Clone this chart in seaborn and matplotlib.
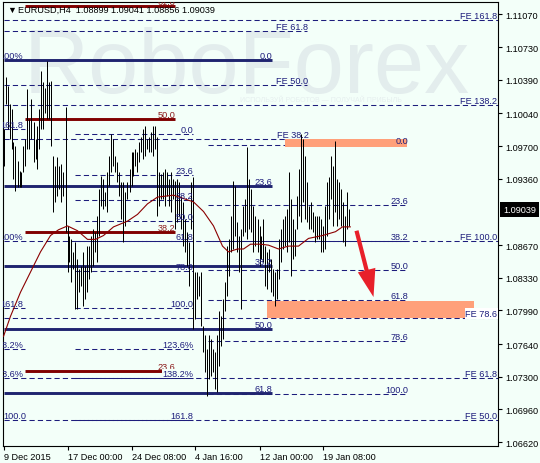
import matplotlib
matplotlib.use("Agg")
import matplotlib.pyplot as plt
import matplotlib.transforms as mtransforms
from matplotlib.patches import Rectangle
import seaborn as sns

# ---- data ----
bar_high = [
    1.0988, 1.1042, 1.1033, 1.1014, 1.1009, 1.0974, 1.0970, 1.0955, 1.0944, 1.0943,
    1.0970, 1.0977, 1.1029, 1.0998, 1.1019, 1.0995, 1.0977, 1.0991, 1.1009, 1.1048,
    1.1037, 1.1031, 1.1059, 1.1037, 1.1038, 1.0960, 1.0949, 1.0959, 1.0949, 1.0951,
    1.0943, 1.1011, 1.0887, 1.0877, 1.0873, 1.0860, 1.0870, 1.0853, 1.0842, 1.0845,
    1.0860, 1.0845, 1.0866, 1.0866, 1.0877, 1.0884, 1.0881, 1.0897, 1.0925, 1.0939,
    1.0936, 1.0922, 1.0943, 1.0960, 1.0983, 1.0977, 1.0960, 1.0953, 1.0943, 1.0933,
    1.0933, 1.0922, 1.0933, 1.0946, 1.0964, 1.0964, 1.0967, 1.0964, 1.0974, 1.0980,
    1.0988, 1.0991, 1.0977, 1.0980, 1.0985, 1.0991, 1.0991, 1.0980, 1.0943, 1.0941,
    1.0943, 1.0946, 1.0943, 1.0936, 1.0943, 1.0936, 1.0934, 1.0936, 1.0933, 1.0918,
    1.0912, 1.0894, 1.0881, 1.0870, 1.0933, 1.0938, 1.0839, 1.0839, 1.0835, 1.0839,
    1.0783, 1.0773, 1.0759, 1.0773, 1.0769, 1.0759, 1.0756, 1.0773, 1.0798, 1.0793,
    1.0811, 1.0829, 1.0866, 1.0873, 1.0897, 1.0934, 1.0929, 1.0891, 1.0877, 1.0884,
    1.0908, 1.0915, 1.0969, 1.0936, 1.0925, 1.0908, 1.0897, 1.0894, 1.0887, 1.0877,
    1.0894, 1.0866, 1.0860, 1.0863, 1.0853, 1.0842, 1.0839, 1.0842, 1.0873, 1.0884,
    1.0894, 1.0897, 1.0905, 1.0943, 1.0915, 1.0894, 1.0884, 1.0918, 1.0946, 1.0983,
    1.0977, 1.0960, 1.0933, 1.0908, 1.0912, 1.0901, 1.0897, 1.0897, 1.0897, 1.0894,
    1.0887, 1.0908, 1.0933, 1.0938, 1.0960, 1.0949, 1.0975, 1.0936, 1.0933, 1.0925,
    1.0912, 1.0897, 1.0922, 1.0905,
]
bar_low = [
    1.0949, 1.1014, 1.0988, 1.0977, 1.0967, 1.0936, 1.0923, 1.0927, 1.0927, 1.0927,
    1.0943, 1.0949, 1.0967, 1.0967, 1.0977, 1.0953, 1.0957, 1.0946, 1.0967, 1.0988,
    1.0988, 1.1005, 1.0998, 1.0998, 1.0970, 1.0902, 1.0912, 1.0918, 1.0925, 1.0912,
    1.0918, 1.0881, 1.0839, 1.0849, 1.0829, 1.0842, 1.0801, 1.0801, 1.0818, 1.0825,
    1.0804, 1.0811, 1.0818, 1.0832, 1.0839, 1.0845, 1.0860, 1.0849, 1.0877, 1.0908,
    1.0905, 1.0908, 1.0901, 1.0929, 1.0943, 1.0949, 1.0943, 1.0933, 1.0918, 1.0894,
    1.0870, 1.0887, 1.0915, 1.0922, 1.0929, 1.0939, 1.0949, 1.0943, 1.0953, 1.0964,
    1.0957, 1.0960, 1.0967, 1.0964, 1.0964, 1.0960, 1.0967, 1.0897, 1.0908, 1.0915,
    1.0915, 1.0908, 1.0918, 1.0908, 1.0901, 1.0915, 1.0884, 1.0891, 1.0897, 1.0884,
    1.0866, 1.0860, 1.0845, 1.0825, 1.0884, 1.0780, 1.0790, 1.0811, 1.0814, 1.0783,
    1.0756, 1.0735, 1.0710, 1.0728, 1.0731, 1.0735, 1.0717, 1.0714, 1.0741, 1.0762,
    1.0769, 1.0798, 1.0814, 1.0835, 1.0860, 1.0863, 1.0877, 1.0860, 1.0839, 1.0801,
    1.0877, 1.0881, 1.0873, 1.0884, 1.0881, 1.0860, 1.0866, 1.0860, 1.0845, 1.0853,
    1.0849, 1.0825, 1.0821, 1.0839, 1.0818, 1.0814, 1.0804, 1.0811, 1.0832, 1.0849,
    1.0863, 1.0866, 1.0860, 1.0870, 1.0835, 1.0853, 1.0856, 1.0884, 1.0897, 1.0891,
    1.0912, 1.0894, 1.0891, 1.0884, 1.0884, 1.0881, 1.0870, 1.0873, 1.0873, 1.0860,
    1.0860, 1.0863, 1.0877, 1.0894, 1.0915, 1.0887, 1.0901, 1.0887, 1.0894, 1.0887,
    1.0870, 1.0866, 1.0884, 1.0887,
]
ma_idx = [0, 3.5, 8.5, 13.5, 18.5, 23.5, 27.5, 32, 37, 42, 46, 50, 55, 62, 67, 72, 77, 85,
          95, 100, 105, 109.5, 112.5, 117, 120, 123.5, 128.5, 132.5, 137.5, 142.5, 147.5,
          152.5, 159.5, 166, 169.5, 173.5]
ma_val = [1.0772, 1.0793, 1.0818, 1.0839, 1.0860, 1.0877, 1.0883, 1.0887, 1.0882, 1.0873,
          1.0873, 1.0877, 1.0886, 1.0892, 1.0899, 1.0910, 1.0917, 1.0919,
          1.0912, 1.0902, 1.0887, 1.0866, 1.0860, 1.0863, 1.0863, 1.0868, 1.0868, 1.0867,
          1.0863, 1.0866, 1.0866, 1.0874, 1.0877, 1.0881, 1.0886, 1.0886]

date_idx = [0, 32, 64, 96, 128, 160]
date_lbl = ["9 Dec 2015", "17 Dec 00:00", "24 Dec 08:00", "4 Jan 16:00", "12 Jan 00:00", "19 Jan 08:00"]
price_ticks = [1.11070, 1.10730, 1.10390, 1.10040, 1.09700, 1.09360, 1.08670,
               1.08330, 1.07990, 1.07640, 1.07300, 1.06960, 1.06620]
last_price = 1.09039
title = "EURUSD,H4  1.08899 1.09041 1.08856 1.09039"

# fibonacci objects
navy_lbl = ["0.0", "23.6", "38.2", "50.0", "61.8"]
navy_val = [1.1060, 1.0929, 1.0845, 1.0780, 1.0713]
red_lbl = ["61.8", "50.0", "38.2", "23.6"]
red_val = [1.1116, 1.0998, 1.0881, 1.0736]
mid_lbl = ["0.0", "23.6", "38.2", "50.0", "61.8", "78.6", "100.0", "123.6%", "138.2%", "161.8"]
mid_val = [1.0983, 1.0940, 1.0914, 1.0892, 1.0871, 1.0840, 1.0802, 1.0759, 1.0729, 1.0685]
right_lbl = ["0.0", "23.6", "38.2", "50.0", "61.8", "78.6", "100.0", "123.6%"]
right_val = [1.0971, 1.0909, 1.0871, 1.0841, 1.0810, 1.0767, 1.0712, 1.0651]
fe_full_lbl = ["FE 161.8", "FE 138.2", "FE 100.0", "FE 78.6", "FE 61.8", "FE 50.0"]
fe_full_val = [1.1101, 1.1013, 1.0871, 1.0791, 1.0729, 1.0685]
fe_short_lbl = ["FE 61.8", "FE 50.0", "FE 38.2"]
fe_short_val = [1.1090, 1.1034, 1.0977]
left_lbl = ["100%", "161.8", "100%", "161.8", "38.2%", "23.6%", "100.0"]
left_val = [1.1060, 1.0988, 1.0871, 1.0802, 1.0759, 1.0729, 1.0685]
left_stub_val = [1.0988, 1.0802, 1.0759]
zone_low = [1.0969, 1.0791]
zone_high = [1.0977, 1.0809]

BG = "#f3fff9"
NAVY = "#1f2470"
DASH = "#1d1d7c"
MAROON = "#800000"
SALMON = "#ffa07a"
DASHES = (0, (5, 3))

sns.set_style("ticks")
plt.rcParams["font.family"] = ["Liberation Sans", "DejaVu Sans"]
FS = 6.6

fig = plt.figure(figsize=(5.4, 4.64), dpi=100, facecolor=BG)
ax = fig.add_axes([3 / 540, 17 / 464, 495 / 540, 444 / 464])
ax.set_facecolor(BG)
ax.set_xlim(-0.25, 247.25)
ax.set_ylim(1.0658, 1.1120)


def label(x, y, s, color=DASH, ha="right", **kw):
    ax.text(x, y, s, ha=ha, va="bottom", fontsize=FS, color=color, clip_on=True, zorder=5, **kw)


# watermark
ax.text(24 / 540, 1 - 93 / 464, "RoboForex", transform=fig.transFigure, fontsize=65,
        color="#e3eded", va="baseline", ha="left", zorder=0.5)
ax.text(240 / 540, 1 - 101 / 464, "ИСПОЛЬЗУЙ РОБОТОВ — ПОЛУЧАЙ ПРИБЫЛЬ", transform=fig.transFigure,
        fontsize=5, color="#e6efef", va="center", ha="left", zorder=0.5)

# dashed fibonacci levels
ax.hlines(fe_full_val, 0, 247.5, colors=DASH, linestyles=DASHES, lw=0.75, zorder=1)
ax.hlines(fe_short_val, 0, 152, colors=DASH, linestyles=DASHES, lw=0.75, zorder=1)
ax.hlines(mid_val, 36, 95, colors=DASH, linestyles=DASHES, lw=0.75, zorder=1)
ax.hlines(right_val, 102.5, 202.5, colors=DASH, linestyles=DASHES, lw=0.75, zorder=1)
ax.hlines(left_stub_val, 0, 11, colors=DASH, linestyles=DASHES, lw=0.75, zorder=1)

# solid retracements
ax.hlines(navy_val, 0, 134.5, colors=NAVY, lw=2.1, zorder=1.5)
ax.hlines(red_val, 11, 86, colors=MAROON, lw=2.1, zorder=1.5)

# target zones
for lo, hi, (x0, x1) in zip(zone_low, zone_high, [(141, 202), (132, 235.5)]):
    ax.add_patch(Rectangle((x0, lo), x1 - x0, hi - lo, facecolor=SALMON, edgecolor="none", zorder=2))

# price bars
bar_idx = list(range(len(bar_high)))
ax.vlines(bar_idx, bar_low, bar_high, colors="black", lw=0.72, zorder=3)

# moving average
sns.lineplot(x=ma_idx, y=ma_val, ax=ax, color="#8b0000", lw=0.8, zorder=4, legend=False)

# level labels
for s, v in zip(navy_lbl, navy_val):
    label(134.5, v, s)
for s, v in zip(red_lbl, red_val):
    label(86, v, s, color="#8b1a1a")
for s, v in zip(mid_lbl, mid_val):
    bb = dict(facecolor=BG, edgecolor="none", pad=0) if s == "138.2%" else None
    label(95, v, s, bbox=bb)
for s, v in zip(right_lbl, right_val):
    label(202.5, v, s)
for s, v in zip(fe_full_lbl, fe_full_val):
    bb = dict(facecolor="white", edgecolor="none", pad=0.6) if s == "FE 78.6" else None
    label(247, v, s, bbox=bb)
for s, v in zip(fe_short_lbl, fe_short_val):
    label(152.5, v, s)
for s, v in zip(left_lbl, left_val):
    label(11.5 if s == "100.0" else 9.8, v, s)

# down arrow
ax.annotate("", xy=(185, 1.0813), xytext=(176.5, 1.0882),
            arrowprops=dict(facecolor="#e8202a", edgecolor="none", width=3, headwidth=13,
                            headlength=20, shrink=0), zorder=6)

# title
ax.text(7 / 540, 1 - 10 / 464, "▼", transform=fig.transFigure, fontsize=6.5, va="center",
        ha="left", color="black", zorder=6)
ax.text(18 / 540, 1 - 10 / 464, title, transform=fig.transFigure, fontsize=FS, va="center",
        ha="left", color="black", zorder=6)

# axes
ax.yaxis.tick_right()
ax.set_yticks(price_ticks)
ax.set_yticklabels([f"{p:.5f}" for p in price_ticks])
ax.set_xticks(date_idx)
ax.set_xticklabels(date_lbl, ha="left")
ax.tick_params(axis="both", direction="out", length=3, width=0.8, labelsize=FS, colors="black")
ax.tick_params(axis="y", pad=2)
ax.tick_params(axis="x", pad=1.5)
for sp in ax.spines.values():
    sp.set_visible(True)
    sp.set_color("black")
    sp.set_linewidth(0.8)

trans = mtransforms.blended_transform_factory(ax.transAxes, ax.transData)
ax.text(1 + 5 / 495, last_price, f"{last_price:.5f}", transform=trans, ha="left", va="center",
        fontsize=FS, color="white", clip_on=False, zorder=7,
        bbox=dict(boxstyle="square,pad=0.35", facecolor="black", edgecolor="none"))

fig.savefig("out.png", dpi=100, facecolor=BG)
